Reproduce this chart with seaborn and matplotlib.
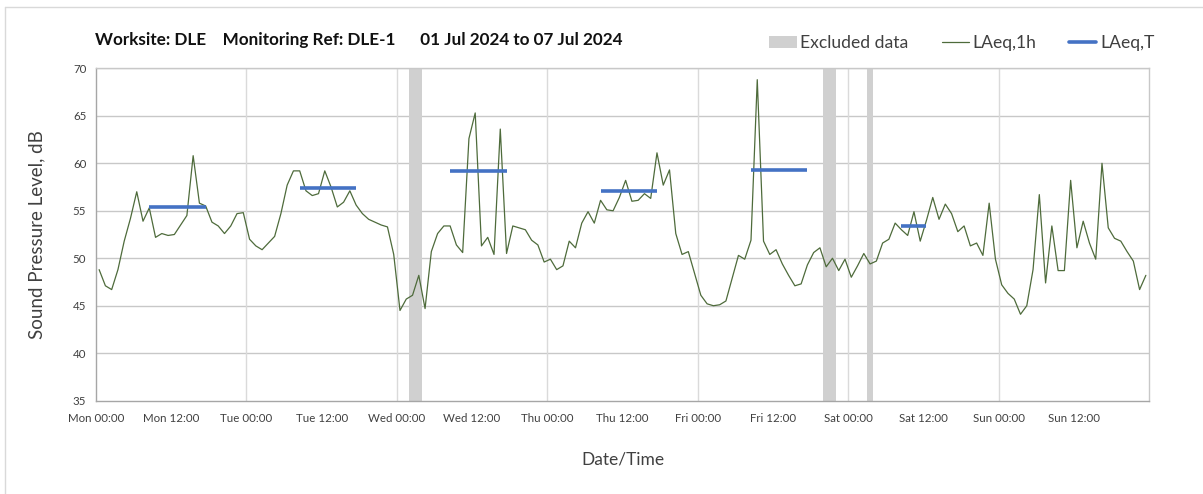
import numpy as np
import pandas as pd
import matplotlib
matplotlib.use("Agg")
import matplotlib.pyplot as plt
import seaborn as sns
from matplotlib.patches import Patch
from matplotlib.lines import Line2D

# ---------------- data ----------------
day_names = ["Mon", "Tue", "Wed", "Thu", "Fri", "Sat", "Sun"]

laeq_mon = [48.8, 47.1, 46.7, 48.8, 51.8, 54.2, 57.0, 53.9, 55.3, 52.2, 52.6, 52.4,
            52.5, 53.5, 54.5, 60.8, 55.8, 55.5, 53.8, 53.4, 52.6, 53.4, 54.7, 54.8]
laeq_tue = [52.0, 51.3, 50.9, 51.6, 52.3, 54.7, 57.7, 59.2, 59.2, 57.1, 56.6, 56.8,
            59.2, 57.5, 55.4, 55.9, 57.1, 55.6, 54.7, 54.1, 53.8, 53.5, 53.3, 50.4]
laeq_wed = [44.5, 45.7, 46.1, 48.2, 44.7, 50.7, 52.6, 53.4, 53.4, 51.4, 50.6, 62.6,
            65.3, 51.3, 52.2, 50.4, 63.6, 50.5, 53.4, 53.2, 53.0, 51.9, 51.4, 49.6]
laeq_thu = [49.9, 48.8, 49.2, 51.8, 51.1, 53.7, 54.9, 53.7, 56.1, 55.1, 55.0, 56.4,
            58.2, 56.0, 56.1, 56.8, 56.3, 61.1, 57.7, 59.3, 52.6, 50.4, 50.7, 48.4]
laeq_fri = [46.1, 45.2, 45.0, 45.1, 45.5, 47.9, 50.3, 49.9, 51.9, 68.8, 51.8, 50.4,
            50.9, 49.4, 48.2, 47.1, 47.3, 49.3, 50.6, 51.1, 49.1, 50.0, 48.7, 49.9]
laeq_sat = [48.0, 49.2, 50.5, 49.4, 49.7, 51.6, 52.0, 53.7, 53.0, 52.4, 54.9, 51.8,
            54.0, 56.4, 54.1, 55.7, 54.7, 52.8, 53.4, 51.3, 51.6, 50.3, 55.8, 49.9]
laeq_sun = [47.2, 46.3, 45.7, 44.1, 45.0, 48.8, 56.7, 47.4, 53.4, 48.7, 48.7, 58.2,
            51.1, 53.9, 51.6, 49.9, 60.0, 53.2, 52.1, 51.8, 50.7, 49.7, 46.7, 48.2]

# LAeq,T periods (hours from Mon 00:00) and values
period_start = [8.5, 32.5, 56.5, 80.5, 104.5, 128.5]
period_end = [17.5, 41.5, 65.5, 89.5, 113.5, 132.5]
period_value = [55.4, 57.4, 59.2, 57.1, 59.3, 53.4]

# Excluded data windows (hours from Mon 00:00)
excl_start = [50, 116, 123]
excl_end = [52, 118, 124]

tick_hours = list(range(0, 169, 12))
tick_labels = [f"{day_names[h // 24]} {h % 24:02d}:00" if h < 168 else "" for h in tick_hours]

title = "Worksite: DLE    Monitoring Ref: DLE-1      01 Jul 2024 to 07 Jul 2024"

# ---------------- build frames ----------------
hourly = laeq_mon + laeq_tue + laeq_wed + laeq_thu + laeq_fri + laeq_sat + laeq_sun
df = pd.DataFrame({"hour": np.arange(len(hourly)) + 0.5, "LAeq1h": hourly})

rows = []
for i, (s, e, v) in enumerate(zip(period_start, period_end, period_value)):
    rows.append({"period": i, "hour": s, "val": v})
    rows.append({"period": i, "hour": e, "val": v})
dft = pd.DataFrame(rows)

# ---------------- style ----------------
sns.set_style("white")
plt.rcParams["font.family"] = ["Lato", "DejaVu Sans"]

green = "#4e6b3b"
blue = "#4472c4"
grey_band = "#d0d0d0"
axis_col = "#a6a6a6"
text_col = "#404040"

fig = plt.figure(figsize=(12.03, 4.94), dpi=100)
ax = fig.add_axes([96 / 1203, 1 - 400.7 / 494, (1149 - 96) / 1203, (400.7 - 68.3) / 494])

# excluded bands
for s, e in zip(excl_start, excl_end):
    ax.axvspan(s, e, color=grey_band, lw=0, zorder=1)

sns.lineplot(data=df, x="hour", y="LAeq1h", ax=ax, color=green, lw=0.9, zorder=3)
sns.lineplot(data=dft, x="hour", y="val", units="period", estimator=None, ax=ax,
             color=blue, lw=2.6, zorder=4, solid_capstyle="butt")

ax.set_xlim(0, 168)
ax.set_ylim(35, 70)
ax.set_yticks(range(35, 71, 5))
ax.set_xticks(tick_hours)
ax.set_xticklabels(tick_labels)

# grid: horizontal every 5 dB, vertical every 24 h
for y in range(40, 71, 5):
    ax.axhline(y, color="#c8c8c8", lw=1.0, zorder=0)
for h in range(24, 168, 24):
    ax.axvline(h, color="#dadada", lw=1.0, zorder=0)

for sp in ["left", "bottom", "right", "top"]:
    ax.spines[sp].set_color(axis_col)
    ax.spines[sp].set_linewidth(1.0)
ax.spines["right"].set_color("#c8c8c8")
ax.spines["top"].set_color("#c8c8c8")

ax.tick_params(axis="both", which="both", direction="out", length=4, width=1,
               color=axis_col, labelsize=8.3, labelcolor=text_col, pad=5)
ax.tick_params(axis="y", pad=3)

ax.set_xlabel("Date/Time", fontsize=12.5, color=text_col, labelpad=20)
ax.set_ylabel("Sound Pressure Level, dB", fontsize=13.5, color=text_col, labelpad=20)

fig.text(95 / 1203, 1 - 40 / 494, title, fontsize=12.3, fontweight="bold",
         color="#111111", ha="left", va="center")

handles = [Patch(facecolor=grey_band, edgecolor="none"),
           Line2D([], [], color=green, lw=0.9),
           Line2D([], [], color=blue, lw=2.6)]
fig.legend(handles, ["Excluded data", "LAeq,1h", "LAeq,T"], ncol=3, frameon=False,
           loc="center right", bbox_to_anchor=(1170 / 1203, 1 - 43 / 494),
           fontsize=12.6, handlelength=1.55, handletextpad=0.2, columnspacing=1.9,
           labelcolor=text_col)

# chart-area border (top and left visible)
fig.add_artist(Line2D([5 / 1203, 1], [1 - 7 / 494, 1 - 7 / 494], color="#d9d9d9", lw=1,
                      transform=fig.transFigure))
fig.add_artist(Line2D([5 / 1203, 5 / 1203], [0, 1 - 7 / 494], color="#d9d9d9", lw=1,
                      transform=fig.transFigure))

fig.savefig("out.png", dpi=100)
